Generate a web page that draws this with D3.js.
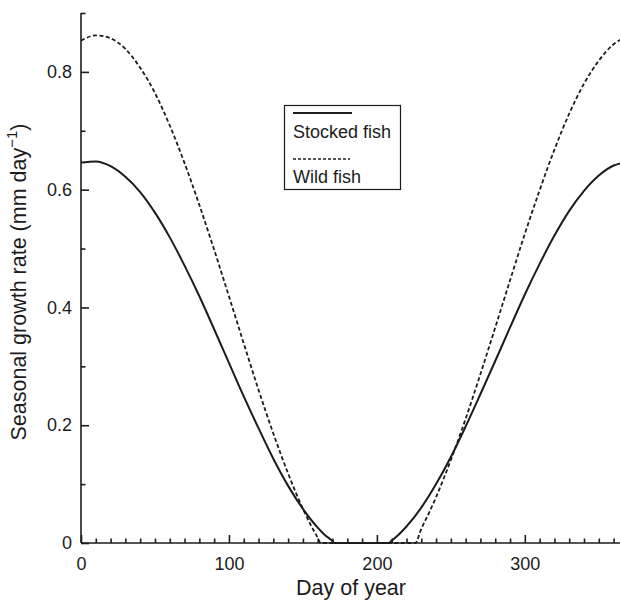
<!DOCTYPE html>
<html>
<head>
<meta charset="utf-8">
<script src="https://cdn.jsdelivr.net/npm/d3@7"></script>
<style>
  body { margin: 0; background: #fff; }
  svg { font-family: "Liberation Sans", Arial, sans-serif; }
</style>
</head>
<body>
<svg width="620" height="601"></svg>
<script>
// values
const stockedDays = [0,10,20,30,40,50,60,70,80,90,100,110,120,130,140,150,160,165,170,171,190,208,210,215,220,230,240,250,260,270,280,290,300,310,320,330,340,350,360,365];
const stockedRate = [0.646,0.648,0.640,0.622,0.596,0.561,0.519,0.471,0.419,0.363,0.306,0.249,0.195,0.143,0.097,0.058,0.026,0.013,0.003,0,0,0,0.004,0.015,0.028,0.060,0.100,0.146,0.198,0.253,0.309,0.366,0.422,0.474,0.522,0.564,0.598,0.624,0.641,0.645];

const wildDays = [0,10,20,30,40,50,60,70,80,90,100,110,120,130,140,150,155,160,162,194,226,230,235,240,250,260,270,280,290,300,310,320,330,340,350,360,365];
const wildRate = [0.853,0.862,0.857,0.839,0.807,0.764,0.709,0.645,0.574,0.498,0.419,0.339,0.260,0.186,0.118,0.058,0.032,0.009,0,0,0,0.024,0.050,0.078,0.141,0.211,0.287,0.366,0.446,0.525,0.599,0.668,0.729,0.780,0.819,0.847,0.855];

const xMajor = [0,100,200,300];
const yMajor = [0,0.2,0.4,0.6,0.8];
const yMinor = [0.1,0.3,0.5,0.7,0.9];

const ink = "#1c1c1c";
const svg = d3.select("svg");

const x = d3.scaleLinear().domain([0,365]).range([81,621]);
const y = d3.scaleLinear().domain([0,0.9]).range([543,13]);

// minor ticks every 10 days
const xMinor = d3.range(0,370,10).filter(d => xMajor.indexOf(d) < 0);

svg.append("g")
  .attr("transform","translate(0,543)")
  .call(d3.axisBottom(x).tickValues(xMinor).tickSize(-4.5).tickFormat(""))
  .call(g => g.select(".domain").remove());

svg.append("g")
  .attr("transform","translate(0,543)")
  .call(d3.axisBottom(x).tickValues(xMajor).tickSize(-8).tickPadding(14).tickFormat(d3.format("d")))
  .call(g => g.select(".domain").attr("d","M81,0H620"));

svg.append("g")
  .attr("transform","translate(81,0)")
  .call(d3.axisLeft(y).tickValues(yMinor).tickSize(-4.5).tickFormat(""))
  .call(g => g.select(".domain").remove());

svg.append("g")
  .attr("transform","translate(81,0)")
  .call(d3.axisLeft(y).tickValues(yMajor).tickSize(-8).tickPadding(9).tickFormat(d => d === 0 ? "0" : d3.format(".1f")(d)))
  .call(g => g.select(".domain").attr("d","M0,13V543"));

svg.selectAll(".domain, .tick line").attr("stroke", ink).attr("stroke-width", 1.6);
svg.selectAll(".tick text").attr("fill", ink).style("font-size","18px");

// axis titles
svg.append("text")
  .attr("x", 351).attr("y", 595)
  .attr("text-anchor","middle")
  .attr("fill", ink)
  .style("font-size","21.5px")
  .text("Day of year");

const yl = svg.append("text")
  .attr("transform","translate(26,282) rotate(-90)")
  .attr("text-anchor","middle")
  .attr("fill", ink)
  .style("font-size","21.5px");
yl.append("tspan").text("Seasonal growth rate (mm day");
yl.append("tspan").attr("dy",-9).style("font-size","15px").text("\u22121");
yl.append("tspan").attr("dy",9).text(")");

// curves
const line = d3.line().x(d => x(d[0])).y(d => y(d[1])).curve(d3.curveMonotoneX);

svg.append("path")
  .datum(stockedDays.map((d,i) => [d, stockedRate[i]]))
  .attr("fill","none").attr("stroke", ink).attr("stroke-width",2)
  .attr("d", line);

svg.append("path")
  .datum(wildDays.map((d,i) => [d, wildRate[i]]))
  .attr("fill","none").attr("stroke", ink).attr("stroke-width",1.8)
  .attr("stroke-dasharray","4,2.5")
  .attr("d", line);

// legend
const lg = svg.append("g");
lg.append("rect")
  .attr("x",284.5).attr("y",105.5).attr("width",116).attr("height",84)
  .attr("fill","#fff").attr("stroke", ink).attr("stroke-width",1.2);
lg.append("line")
  .attr("x1",293).attr("x2",352).attr("y1",113).attr("y2",113)
  .attr("stroke", ink).attr("stroke-width",2);
lg.append("text")
  .attr("x",293).attr("y",138).attr("fill", ink).style("font-size","18px")
  .text("Stocked fish");
lg.append("line")
  .attr("x1",293).attr("x2",350).attr("y1",159).attr("y2",159)
  .attr("stroke", ink).attr("stroke-width",1.6).attr("stroke-dasharray","3,2");
lg.append("text")
  .attr("x",293).attr("y",183).attr("fill", ink).style("font-size","18px")
  .text("Wild fish");
</script>
</body>
</html>
